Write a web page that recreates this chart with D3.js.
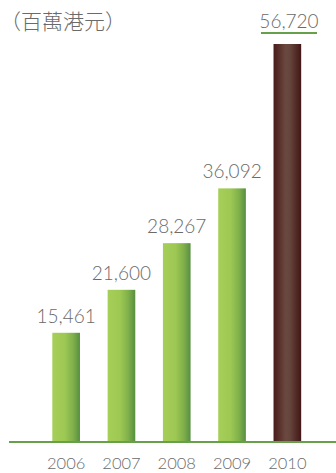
<!DOCTYPE html>
<html>
<head>
<meta charset="utf-8">
<script src="https://cdn.jsdelivr.net/npm/d3@7"></script>
<style>
  html, body { margin: 0; padding: 0; background: #fff; }
  svg { display: block; }
  text { font-family: Lato, "Open Sans", sans-serif; font-weight: 300; fill: #6a6a6a; }
</style>
</head>
<body>
<svg id="chart" width="336" height="473"></svg>
<script>
// Annual figures, HK$ million
const years = ["2006", "2007", "2008", "2009", "2010"];
const values = [15461, 21600, 28267, 36092, 56720];
const unitLabel = "（百萬港元）";

const svg = d3.select("#chart");
const W = 336, baseY = 441, topY = 44;

const x = d3.scaleBand().domain(years).range([38.5, 315]).paddingInner(0.5).paddingOuter(0.25);
const y = d3.scaleLinear().domain([0, d3.max(values)]).range([baseY, topY]);

const defs = svg.append("defs");
const g1 = defs.append("linearGradient").attr("id", "greenBar").attr("x1", "0").attr("x2", "1").attr("y1", "0").attr("y2", "0");
[[0, "#a6cf58"], [0.45, "#9dc853"], [0.75, "#80b04b"], [1, "#578f41"]].forEach(([o, c]) =>
  g1.append("stop").attr("offset", o).attr("stop-color", c));
const g2 = defs.append("linearGradient").attr("id", "brownBar").attr("x1", "0").attr("x2", "1").attr("y1", "0").attr("y2", "0");
[[0, "#4a1b1b"], [0.45, "#6a4a40"], [0.6, "#65443b"], [1, "#421616"]].forEach(([o, c]) =>
  g2.append("stop").attr("offset", o).attr("stop-color", c));

const data = years.map((yr, i) => ({ yr, v: values[i], last: i === years.length - 1 }));

svg.append("g").selectAll("rect").data(data).join("rect")
  .attr("x", d => x(d.yr))
  .attr("width", x.bandwidth())
  .attr("y", d => y(d.v))
  .attr("height", d => baseY - y(d.v))
  .attr("fill", d => d.last ? "url(#brownBar)" : "url(#greenBar)");

// baseline
svg.append("line").attr("x1", 9).attr("x2", W).attr("y1", baseY + 1).attr("y2", baseY + 1)
  .attr("stroke", "#67a04a").attr("stroke-width", 2);

// value labels
const fmt = d3.format(",");
svg.append("g").selectAll("text").data(data.filter(d => !d.last)).join("text")
  .attr("x", d => x(d.yr) + x.bandwidth() / 2)
  .attr("y", d => y(d.v) - 10)
  .attr("text-anchor", "middle")
  .attr("font-size", 19)
  .text(d => fmt(d.v));

// highlighted latest value, placed at the top with an underline
const lastD = data[data.length - 1];
svg.append("text")
  .attr("x", 289).attr("y", 28)
  .attr("text-anchor", "middle")
  .attr("font-size", 19)
  .text(fmt(lastD.v));
svg.append("line").attr("x1", 261).attr("x2", 317).attr("y1", 33).attr("y2", 33)
  .attr("stroke", "#67a04a").attr("stroke-width", 2);

// year axis
const axis = svg.append("g").attr("transform", `translate(0,${baseY})`)
  .call(d3.axisBottom(x).tickSize(0).tickPadding(0));
axis.select(".domain").remove();
axis.selectAll("text")
  .attr("dy", null).attr("y", 28)
  .attr("font-size", 16.5)
  .style("font-family", 'Lato, "Open Sans", sans-serif').style("font-weight", 300).attr("fill", "#6a6a6a");

// unit label
svg.append("text").attr("x", 0).attr("y", 28.5)
  .attr("font-size", 21)
  .style("font-family", '"Noto Sans CJK TC", sans-serif')
  .style("font-weight", 300)
  .text(unitLabel);
</script>
</body>
</html>
